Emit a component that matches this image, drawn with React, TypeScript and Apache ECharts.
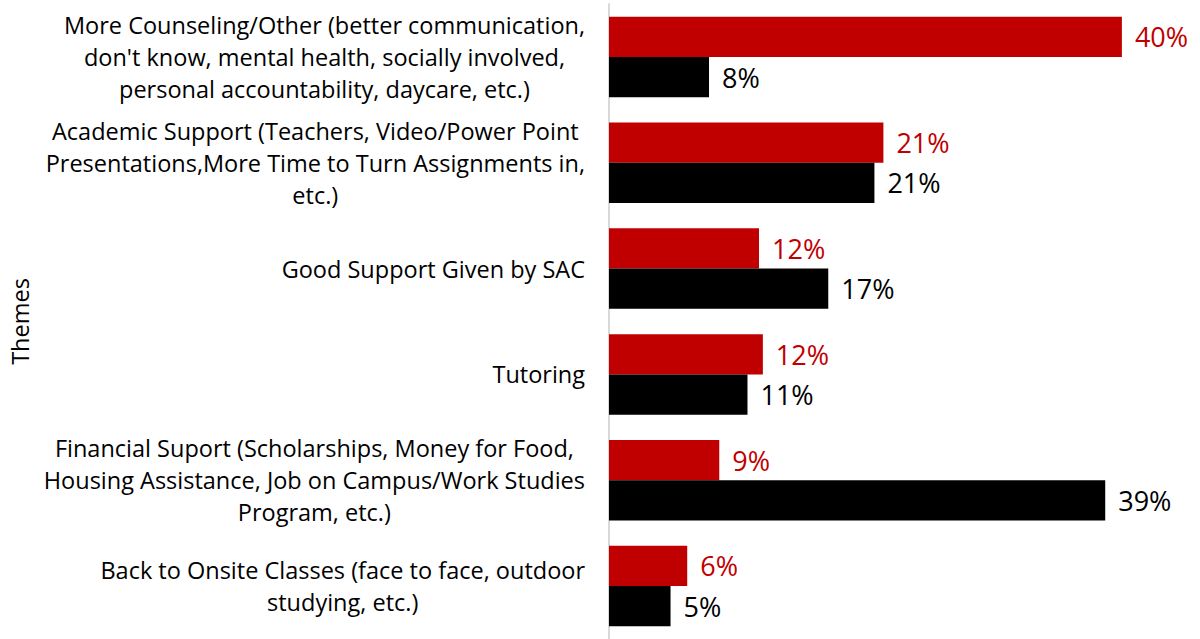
import React, { useEffect, useRef } from "react";
import * as echarts from "echarts";

const categories: string[] = [
  "More Counseling/Other (better communication,\ndon't know, mental health, socially involved,\npersonal accountability, daycare, etc.)",
  "Academic Support (Teachers, Video/Power Point\nPresentations,More Time to Turn Assignments in,\netc.)",
  "Good Support Given by SAC",
  "Tutoring",
  "Financial Suport (Scholarships, Money for Food,\nHousing Assistance, Job on Campus/Work Studies\nProgram, etc.)",
  "Back to Onsite Classes (face to face, outdoor\nstudying, etc.)",
];

const redValues: number[] = [40, 21.4, 11.7, 12, 8.6, 6.1];
const blackValues: number[] = [7.8, 20.7, 17.1, 10.8, 38.7, 4.8];

const axisName = "Themes";

export default function App() {
  const ref = useRef<HTMLDivElement>(null);
  useEffect(() => {
    if (!ref.current) return;
    const chart = echarts.init(ref.current, null, { renderer: "svg" });
    const font = "Open Sans";
    chart.setOption({
      animation: false,
      grid: { left: 609, top: 4, width: 577, bottom: -1, containLabel: false },
      xAxis: {
        type: "value",
        min: 0,
        max: 45,
        show: false,
      },
      yAxis: {
        type: "category",
        data: categories,
        inverse: true,
        name: axisName,
        nameLocation: "middle",
        nameGap: 577,
        nameTextStyle: { fontFamily: font, fontSize: 23.5, color: "#000" },
        axisLine: { show: true, lineStyle: { color: "#d9d9d9", width: 2 } },
        axisTick: { show: false },
        axisLabel: {
          margin: 24,
          align: "right",
          fontFamily: font,
          fontSize: 23.5,
          color: "#000",
          lineHeight: 32,
          formatter: (v: string) =>
            v
              .split("\n")
              .map((l) => `{c|${l}}`)
              .join("\n"),
          rich: {
            c: { align: "center", fontFamily: font, fontSize: 23.5, color: "#000", lineHeight: 32 },
          },
        },
      },
      series: [
        {
          type: "bar",
          data: redValues,
          barCategoryGap: "24%",
          barGap: "0%",
          itemStyle: { color: "#C00000" },
          label: {
            show: true,
            position: "right",
            distance: 13,
            fontFamily: font,
            fontSize: 27,
            color: "#C00000",
            formatter: (p: any) => `${Math.round(p.value)}%`,
          },
        },
        {
          type: "bar",
          data: blackValues,
          barCategoryGap: "24%",
          barGap: "0%",
          itemStyle: { color: "#000000" },
          label: {
            show: true,
            position: "right",
            distance: 13,
            fontFamily: font,
            fontSize: 27,
            color: "#000",
            formatter: (p: any) => `${Math.round(p.value)}%`,
          },
        },
      ],
    });
    return () => chart.dispose();
  }, []);
  return (
    <div
      ref={ref}
      style={{ position: "fixed", left: 0, top: 0, width: 1200, height: 639, background: "#fff" }}
    />
  );
}
